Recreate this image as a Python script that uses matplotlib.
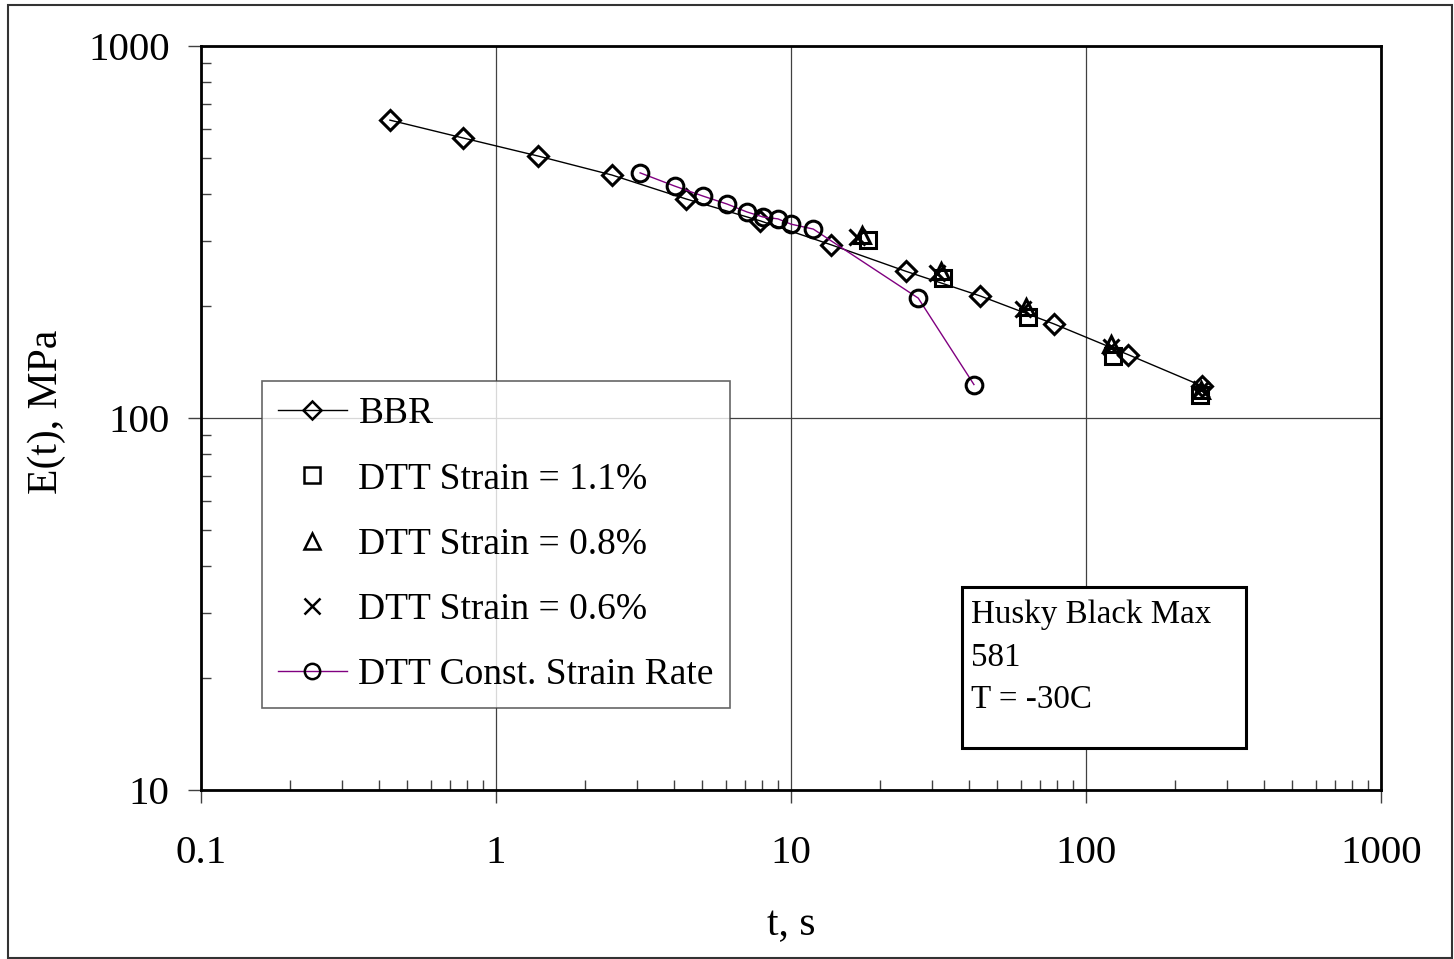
import matplotlib
matplotlib.use("Agg")
import matplotlib.pyplot as plt
from matplotlib.patches import Rectangle
from matplotlib.ticker import LogLocator, FixedLocator, NullFormatter

plt.rcParams['font.family'] = ['Liberation Serif', 'DejaVu Serif']

# BBR creep stiffness
bbr_t = [0.437, 0.773, 1.39, 2.47, 4.41, 7.85, 13.7, 24.5, 43.7, 77.9, 139, 247]
bbr_E = [632, 566, 506, 450, 388, 339, 292, 248, 213, 179, 148, 122]

# DTT relaxation tests at three strain levels
dtt11_t = [18.2, 32.7, 63.6, 123.5, 243]
dtt11_E = [301, 238, 187, 147, 115]
dtt08_t = [17.4, 32.2, 62.6, 122, 245]
dtt08_E = [310, 248, 199, 158, 119]
dtt06_t = [16.7, 31.3, 61.1, 121.6, 245]
dtt06_E = [307, 245, 196, 155, 120]

# DTT constant strain rate
csr_t = [3.08, 4.04, 5.03, 6.07, 7.09, 8.04, 9.03, 10.0, 11.9, 27.0, 41.7]
csr_E = [456, 420, 395, 376, 358, 347, 343, 332, 322, 210, 123]

labels = ['BBR', 'DTT Strain = 1.1%', 'DTT Strain = 0.8%',
          'DTT Strain = 0.6%', 'DTT Const. Strain Rate']
x_ticks = [0.1, 1, 10, 100, 1000]
x_tick_labels = ['0.1', '1', '10', '100', '1000']
y_ticks = [10, 100, 1000]
y_tick_labels = ['10', '100', '1000']

W, H = 1454, 959
fig = plt.figure(figsize=(W / 100, H / 100), dpi=100)
ax = fig.add_axes([201 / W, 1 - 790 / H, (1381 - 201) / W, (790 - 46) / H])

mew = 2.2
ax.plot(bbr_t, bbr_E, color='black', lw=1.0, marker='D', ms=10.5,
        mfc='none', mec='black', mew=mew, label=labels[0], zorder=3)
ax.plot(dtt11_t, dtt11_E, ls='none', marker='s', ms=12,
        mfc='none', mec='black', mew=mew, label=labels[1], zorder=4)
ax.plot(dtt08_t, dtt08_E, ls='none', marker='^', ms=12,
        mfc='none', mec='black', mew=mew, label=labels[2], zorder=4)
ax.plot(dtt06_t, dtt06_E, ls='none', marker='x', ms=12,
        mfc='none', mec='black', mew=mew, label=labels[3], zorder=4)
ax.plot(csr_t, csr_E, color='#800080', lw=1.0, marker='o', ms=12,
        mfc='none', mec='black', mew=mew, label=labels[4], zorder=3)

ax.set_xscale('log')
ax.set_yscale('log')
ax.set_xlim(0.1, 1000)
ax.set_ylim(10, 1000)

ax.xaxis.set_major_locator(FixedLocator(x_ticks))
ax.set_xticklabels(x_tick_labels)
ax.yaxis.set_major_locator(FixedLocator(y_ticks))
ax.set_yticklabels(y_tick_labels)
ax.xaxis.set_minor_locator(LogLocator(base=10, subs=range(2, 10)))
ax.yaxis.set_minor_locator(LogLocator(base=10, subs=range(2, 10)))
ax.xaxis.set_minor_formatter(NullFormatter())
ax.yaxis.set_minor_formatter(NullFormatter())

ax.grid(True, which='major', color='#404040', lw=0.9)
ax.tick_params(which='major', direction='out', length=9.5, width=1.0,
               color='#404040', labelsize=29.5)
ax.tick_params(axis='x', which='major', pad=23)
ax.tick_params(axis='y', which='major', pad=13)
ax.tick_params(which='minor', direction='in', length=7, width=1.0, color='#404040')
for s in ax.spines.values():
    s.set_linewidth(2.0)
    s.set_color('black')

ax.set_xlabel('t, s', fontsize=30, labelpad=24)
ax.set_ylabel('E(t), MPa', fontsize=30)
ax.yaxis.set_label_coords(-0.1145, 0.508)

leg = ax.legend(loc='upper left', bbox_to_anchor=(262 / W, 1 - 381 / H),
                bbox_transform=fig.transFigure, fontsize=27, frameon=True,
                fancybox=False, borderpad=0.42, labelspacing=0.82,
                handlelength=1.85, handletextpad=0.3, borderaxespad=0,
                markerscale=0.92)
leg.get_frame().set_edgecolor('#404040')
leg.get_frame().set_linewidth(1.2)
for h in leg.legend_handles:
    h.set_markeredgewidth(1.8)

ax.text((962 - 201) / (1381 - 201) + 0.008, (790 - 600) / (790 - 46),
        'Husky Black Max\n581\nT = -30C', transform=ax.transAxes,
        fontsize=23.8, va='top', ha='left', linespacing=1.5, zorder=6)
ax.add_patch(Rectangle(((962 - 201) / (1381 - 201), (790 - 748) / (790 - 46)),
                       (1246 - 962) / (1381 - 201), (748 - 587) / (790 - 46),
                       transform=ax.transAxes, fc='white', ec='black', lw=2.2,
                       zorder=5))

fig.patches.append(Rectangle((8 / W, 1 / H), (W - 10) / W, (H - 6) / H,
                             transform=fig.transFigure, fill=False,
                             ec='#333333', lw=1.5))

fig.savefig('out.png', dpi=100)
